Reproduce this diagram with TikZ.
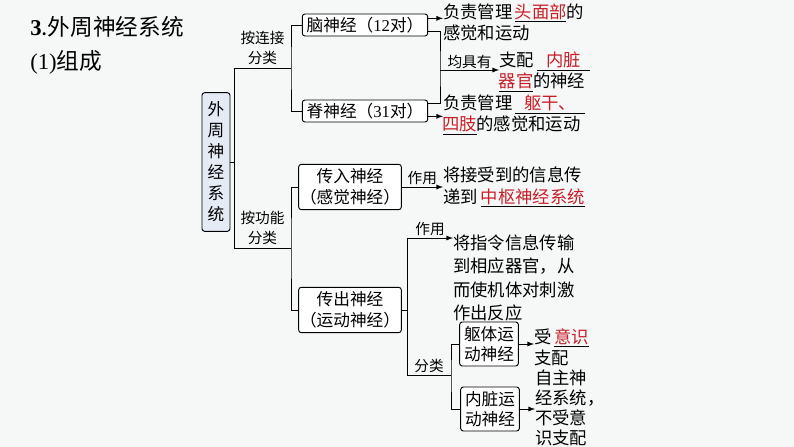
\documentclass[tikz,border=0pt]{standalone}
\usepackage{fontspec}
\setmainfont{Noto Sans CJK SC}
\newfontfamily\latin{Liberation Serif}
\usetikzlibrary{arrows}
\definecolor{keyred}{RGB}{200,30,40}
\definecolor{slide}{RGB}{246,248,248}
\definecolor{pnsfill}{RGB}{229,235,244}
\newcommand{\blank}[2]{\underline{\makebox[#1]{\textcolor{keyred}{#2}}}}
\tikzset{
  nervebox/.style={draw, rounded corners=2pt, line width=0.7pt, fill=white,
    inner sep=1pt, align=center, font=\fontsize{12.5}{15.5}\selectfont},
  note/.style={inner sep=0pt, anchor=west, align=left,
    font=\fontsize{13}{16}\selectfont},
  tag/.style={inner sep=1pt, align=center, font=\fontsize{11}{15}\selectfont},
  link/.style={line width=0.7pt},
}
\begin{document}
\begin{tikzpicture}[x=0.75pt,y=-0.75pt,>=latex]
\fill[slide] (0,0) rectangle (794,447);
\useasboundingbox (0,0) rectangle (794,447);
% headings
\node[anchor=west, inner sep=0pt, font=\fontsize{17}{20}\selectfont] (head) at (30,27) {{\latin\bfseries 3}.外周神经系统};
\node[anchor=west, inner sep=0pt, font=\fontsize{17}{20}\selectfont] (part) at (30,62) {{\latin (1)}组成};

\node[nervebox, fill=pnsfill, minimum width=21pt, minimum height=104pt,
  font=\fontsize{12.5}{15.75}\selectfont] (pns) at (216,162) {外\\周\\神\\经\\系\\统};

% by connection
\node[nervebox, minimum width=94pt, minimum height=16.5pt] (brain) at (365,25) {脑神经（{\latin 12}对）};
\node[nervebox, minimum width=94pt, minimum height=16.5pt] (spine) at (365,111) {脊神经（{\latin 31}对）};
% by function
\node[nervebox, minimum width=75pt, minimum height=34pt] (afferent) at (350,187) {传入神经\\（感觉神经）};
\node[nervebox, minimum width=75pt, minimum height=34pt] (efferent) at (350,310) {传出神经\\（运动神经）};
\node[nervebox, minimum width=44pt, minimum height=33pt] (somatic) at (489,344) {躯体运\\动神经};
\node[nervebox, minimum width=44pt, minimum height=33pt] (visceral) at (490,409) {内脏运\\动神经};

% notes
\node[note] (headCtl) at (443,22.5) {负责管理\,\blank{38pt}{头面部}的\\感觉和运动};
\node[note] (organCtl) at (499,72) {支配\,\blank{40pt}{内脏}\\\blank{25.5pt}{器官}的神经};
\node[note] (bodyCtl) at (443,115) {负责管理\,\blank{52pt}{躯干、}\\\blank{25pt}{四肢}的感觉和运动};
\node[note] (toCns) at (443,187) {将接受到的信息传\\递到\,\blank{78pt}{中枢神经系统}};
\node[note, font=\fontsize{13}{17.5}\selectfont] (toOrgan) at (453,278) {将指令信息传输\\到相应器官，从\\而使机体对刺激\\作出反应};
\node[note] (will) at (534,347) {受\,\blank{26pt}{意识}\\支配};
\node[note, font=\fontsize{13}{15}\selectfont] (auto) at (535,408) {自主神\\经系统，\\不受意\\识支配};

% trunk
\coordinate (top) at (234,68);
\coordinate (bot) at (234,248);
\draw[link] (top) -- (bot);
\draw[link] (pns.east) -- (pns.east -| top);

\coordinate (byLink) at (291,68);
\draw[link] (top) -- (byLink) node[tag, above=1pt, midway] {按连接\\分类};
\draw[link] (brain.west) -| (byLink) |- (spine.west);

\coordinate (byUse) at (291,248);
\draw[link] (bot) -- (byUse) node[tag, above=1pt, midway] {按功能\\分类};
\draw[link] (afferent.west) -| (byUse) |- (efferent.west);

% cranial / spinal
\coordinate (b1) at ([yshift=5pt]brain.east);
\coordinate (b2) at ([yshift=-4.5pt]brain.east);
\coordinate (s1) at ([yshift=6pt]spine.east);
\coordinate (s2) at ([yshift=-4pt]spine.east);
\coordinate (both) at (440,70);
\draw[link,->] (b1) -- (b1 -| headCtl.west);
\draw[link,->] (s2) -- (s2 -| bodyCtl.west);
\draw[link] (b2) -| (both) |- (s1);
\draw[link,->] (both) -- (both -| organCtl.west) node[tag, above, midway] {均具有};

% afferent / efferent
\draw[link,->] (afferent.east) -- (toCns.west) node[tag, above, midway] {作用};
\coordinate (split) at (407,310);
\coordinate (useTop) at (407,238);
\coordinate (kindBot) at (407,375);
\draw[link] (efferent.east) -- (split);
\draw[link] (useTop) -- (kindBot);
\draw[link,->] (useTop) -- (useTop -| toOrgan.west) node[tag, above, midway] {作用};
\coordinate (kind) at (451,375);
\draw[link] (kindBot) -- (kind) node[tag, above, midway] {分类};
\draw[link] (somatic.west) -| (kind) |- (visceral.west);
\draw[link,->] (somatic.east) -- (somatic.east -| will.west);
\draw[link,->] (visceral.east) -- (visceral.east -| auto.west);
\end{tikzpicture}
\end{document}
